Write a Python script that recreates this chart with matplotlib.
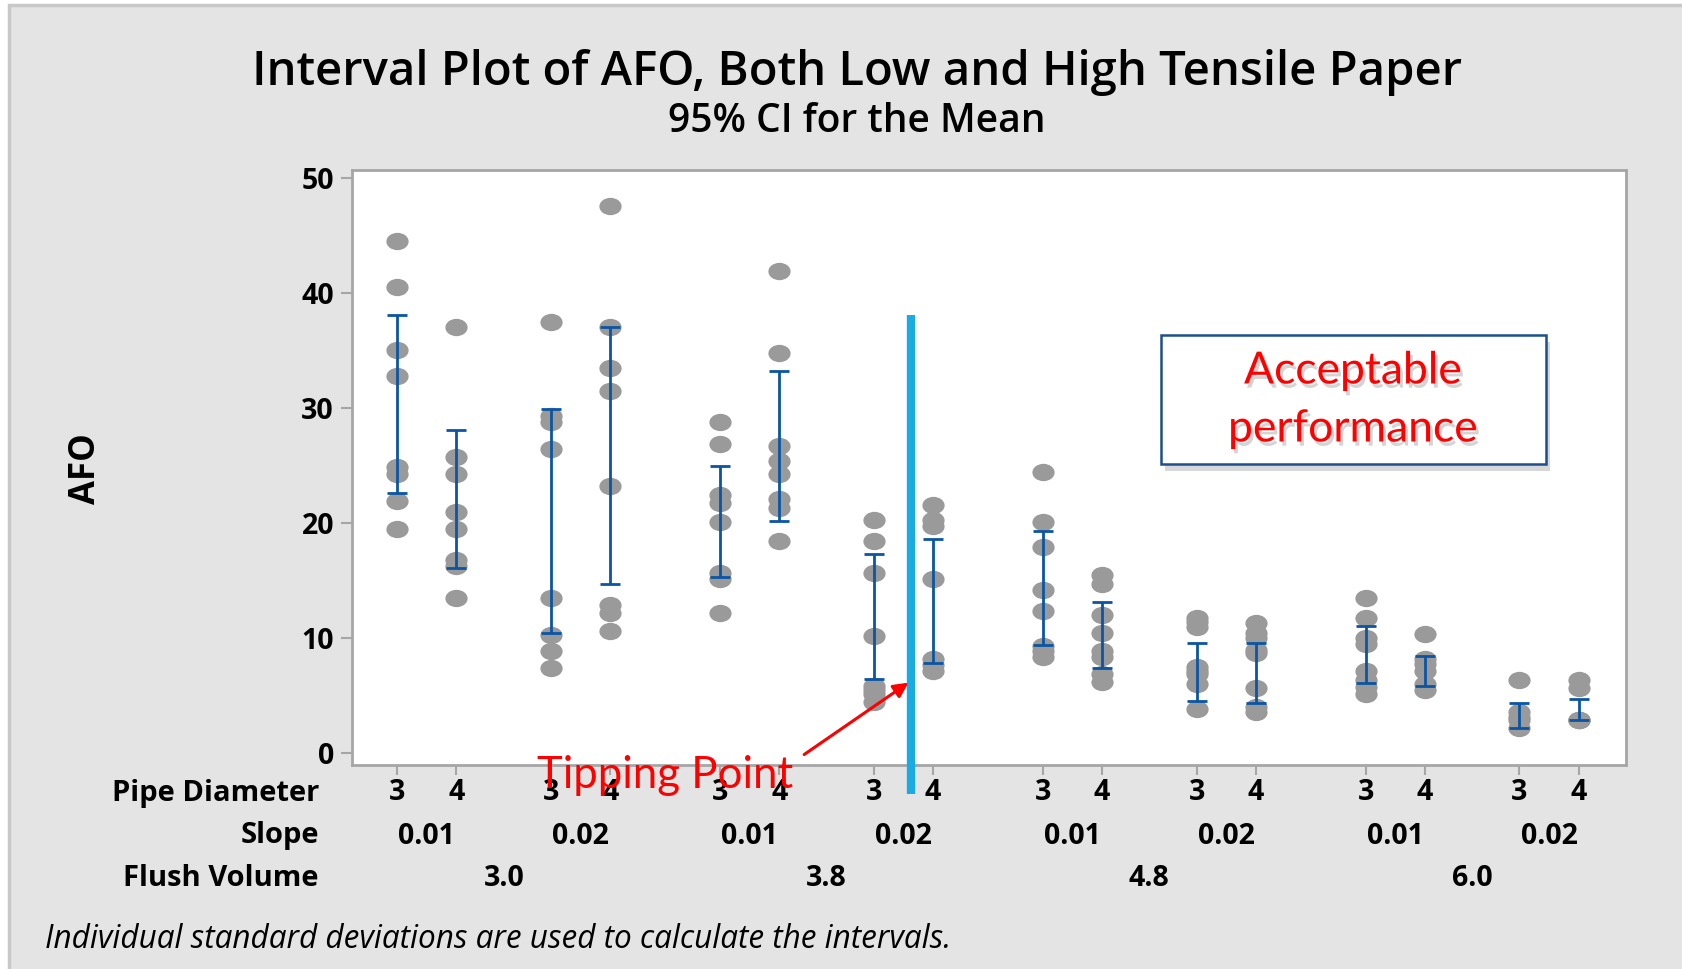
import matplotlib
matplotlib.use("Agg")
import matplotlib.pyplot as plt
import matplotlib.transforms as mtransforms
import matplotlib.patheffects as pe
from matplotlib.patches import Rectangle
from matplotlib.path import Path
from matplotlib.transforms import Affine2D

# ---------------- data ----------------
flush_volume = ["3.0"] * 4 + ["3.8"] * 4 + ["4.8"] * 4 + ["6.0"] * 4
slope = ["0.01", "0.01", "0.02", "0.02"] * 4
pipe_diameter = ["3", "4"] * 8

afo_values = [
    [44.5, 40.5, 35.1, 32.8, 24.9, 24.3, 21.9, 19.5],
    [37.1, 25.8, 24.3, 21.0, 19.5, 16.8, 16.3, 13.5],
    [37.5, 29.3, 28.8, 26.5, 13.5, 10.3, 8.9, 7.4],
    [47.6, 37.1, 33.5, 31.5, 23.2, 12.9, 12.2, 10.6],
    [28.8, 26.9, 22.5, 21.8, 20.1, 15.7, 15.2, 12.2],
    [41.9, 34.8, 26.7, 25.4, 24.3, 22.1, 21.3, 18.5],
    [20.3, 18.5, 15.7, 10.2, 5.9, 5.5, 5.2, 4.5],
    [21.6, 20.3, 19.8, 15.2, 8.2, 7.7, 7.2],
    [24.5, 20.1, 17.9, 14.2, 12.4, 9.3, 8.9, 8.4],
    [15.5, 14.7, 12.0, 10.5, 8.9, 8.4, 6.9, 6.2],
    [11.8, 11.4, 11.0, 7.5, 7.2, 6.9, 6.0, 3.9],
    [11.3, 10.5, 10.0, 9.0, 8.7, 5.7, 4.0, 3.6],
    [13.5, 11.8, 10.0, 9.5, 7.2, 6.4, 5.8, 5.2],
    [10.4, 8.2, 7.8, 7.2, 6.0, 5.5],
    [6.4, 3.6, 3.2, 2.9, 2.2],
    [6.4, 5.7, 2.9, 2.9, 2.9],
]
ci_lower = [22.6, 16.1, 10.5, 14.7, 15.3, 20.2, 6.5, 7.9,
            9.4, 7.4, 4.6, 4.4, 6.1, 5.9, 2.2, 2.9]
ci_upper = [38.1, 28.1, 29.9, 37.1, 25.0, 33.2, 17.3, 18.6,
            19.3, 13.2, 9.6, 9.6, 11.1, 8.5, 4.4, 4.7]

yticks = [0, 10, 20, 30, 40, 50]
tipping_line_top = 38.1

# ---------------- layout helpers ----------------
positions = []
pos = 0.0
for i in range(len(flush_volume)):
    if i > 0:
        if flush_volume[i] != flush_volume[i - 1]:
            pos += 1.855
        elif slope[i] != slope[i - 1]:
            pos += 1.6
        else:
            pos += 1.0
    positions.append(pos)

W, H = 1683, 969
fig = plt.figure(figsize=(W / 100, H / 100), dpi=100)
fig.patch.set_facecolor("white")
fig.patches.append(Rectangle((9 / W, -0.01), 1.0, 1 - 5 / H + 0.01,
                             transform=fig.transFigure, facecolor="#e4e4e4",
                             edgecolor="#c8c8c8", linewidth=2.5, zorder=-10))

FONT = ["Open Sans", "DejaVu Sans"]
ANNOT_FONT = ["Lato", "DejaVu Sans"]
LAB_FS = 20.5

ax = fig.add_axes([352 / W, 1 - 765 / H, (1626 - 352) / W, (765 - 170) / H])
ax.set_facecolor("white")
for sp in ax.spines.values():
    sp.set_color("#a6a6a6")
    sp.set_linewidth(2)

# dots (slightly elliptical)
ell = Path.unit_circle().transformed(Affine2D().scale(1.0, 0.78))
for x, vals in zip(positions, afo_values):
    ax.plot([x] * len(vals), vals, linestyle="none", marker=ell,
            markersize=16, color="#9a9a9a", markeredgewidth=0, zorder=2)

# CI intervals
for x, lo, hi in zip(positions, ci_lower, ci_upper):
    mid = (lo + hi) / 2
    ax.errorbar([x], [mid], yerr=[[mid - lo], [hi - mid]], fmt="none",
                ecolor="#0b55a3", elinewidth=2.0, capsize=7, capthick=2.0, zorder=3)

ax.set_xlim(positions[0] - 0.765, positions[-1] + 0.80)
ax.set_ylim(-1.0, 50.7)
ax.set_yticks(yticks)
ax.set_yticklabels([str(t) for t in yticks], fontsize=LAB_FS, fontweight="bold",
                   family=FONT)
ax.tick_params(axis="y", length=8, width=1.5, color="#a6a6a6", pad=5)
ax.set_xticks(positions)
ax.set_xticklabels([])
ax.tick_params(axis="x", length=7, width=1.5, color="#a6a6a6")

# tipping point vertical line
x_tip = positions[6] + 0.62
ax.plot([x_tip, x_tip], [tipping_line_top, -3.5], color="#1aabe2", linewidth=6,
        solid_capstyle="butt", clip_on=False, zorder=5)

# categorical labels below axis
bt = mtransforms.blended_transform_factory(ax.transData, fig.transFigure)
y_pipe, y_slope, y_flush = 1 - 793 / H, 1 - 836 / H, 1 - 879 / H
for x, p in zip(positions, pipe_diameter):
    ax.text(x, y_pipe, p, transform=bt, ha="center", va="center", fontsize=LAB_FS,
            fontweight="bold", family=FONT)
for i in range(0, len(positions), 2):
    ax.text((positions[i] + positions[i + 1]) / 2, y_slope, slope[i], transform=bt,
            ha="center", va="center", fontsize=LAB_FS, fontweight="bold", family=FONT)
for i in range(0, len(positions), 4):
    ax.text((positions[i] + positions[i + 3]) / 2, y_flush, flush_volume[i],
            transform=bt, ha="center", va="center", fontsize=LAB_FS,
            fontweight="bold", family=FONT)
for yy, lab in [(y_pipe, "Pipe Diameter"), (y_slope, "Slope"), (y_flush, "Flush Volume")]:
    fig.text(319 / W, yy, lab, ha="right", va="center", fontsize=LAB_FS + 0.5,
             fontweight="bold", family=FONT)

# titles
fig.text(857 / W, 1 - 73 / H, "Interval Plot of AFO, Both Low and High Tensile Paper",
         ha="center", va="center", fontsize=34, fontweight="semibold", family=FONT)
fig.text(857 / W, 1 - 122 / H, "95% CI for the Mean", ha="center", va="center",
         fontsize=28, fontweight="semibold", family=FONT)
fig.text(86 / W, 1 - 469 / H, "AFO", rotation=90, ha="center", va="center",
         fontsize=25, fontweight="bold", family=FONT)
fig.text(45 / W, 1 - 940 / H,
         "Individual standard deviations are used to calculate the intervals.",
         ha="left", va="center", fontsize=22.7, style="italic", family=FONT)

# tipping point annotation
ax.annotate("", xy=(8.64, 6.16), xytext=(6.876, -0.09),
            arrowprops=dict(arrowstyle="-|>", color="red", lw=2.2,
                            mutation_scale=22, shrinkA=0, shrinkB=0),
            annotation_clip=False, zorder=6)
fig.text(665 / W, 1 - 775 / H, "Tipping Point", ha="center", va="center",
         fontsize=31.5, color="red", family=ANNOT_FONT, zorder=7)

# acceptable performance box
box = Rectangle((1161 / W, 1 - 464 / H), 385 / W, 129 / H, transform=fig.transFigure,
                facecolor="white", edgecolor="#1f4e8c", linewidth=1.8, zorder=8)
box.set_path_effects([pe.SimplePatchShadow(offset=(3, -5), shadow_rgbFace="#b0b0b0",
                                           alpha=0.5), pe.Normal()])
fig.patches.append(box)
for yy, lab in [(1 - 371 / H, "Acceptable"), (1 - 429 / H, "performance")]:
    t = fig.text(1353 / W, yy, lab, ha="center", va="center", fontsize=32,
                 color="red", family=ANNOT_FONT, zorder=9)
    t.set_path_effects([pe.withSimplePatchShadow(offset=(2, -3),
                                                 shadow_rgbFace="#a0a0a0", alpha=0.45)])

fig.savefig("out.png", dpi=100, facecolor=fig.get_facecolor())
